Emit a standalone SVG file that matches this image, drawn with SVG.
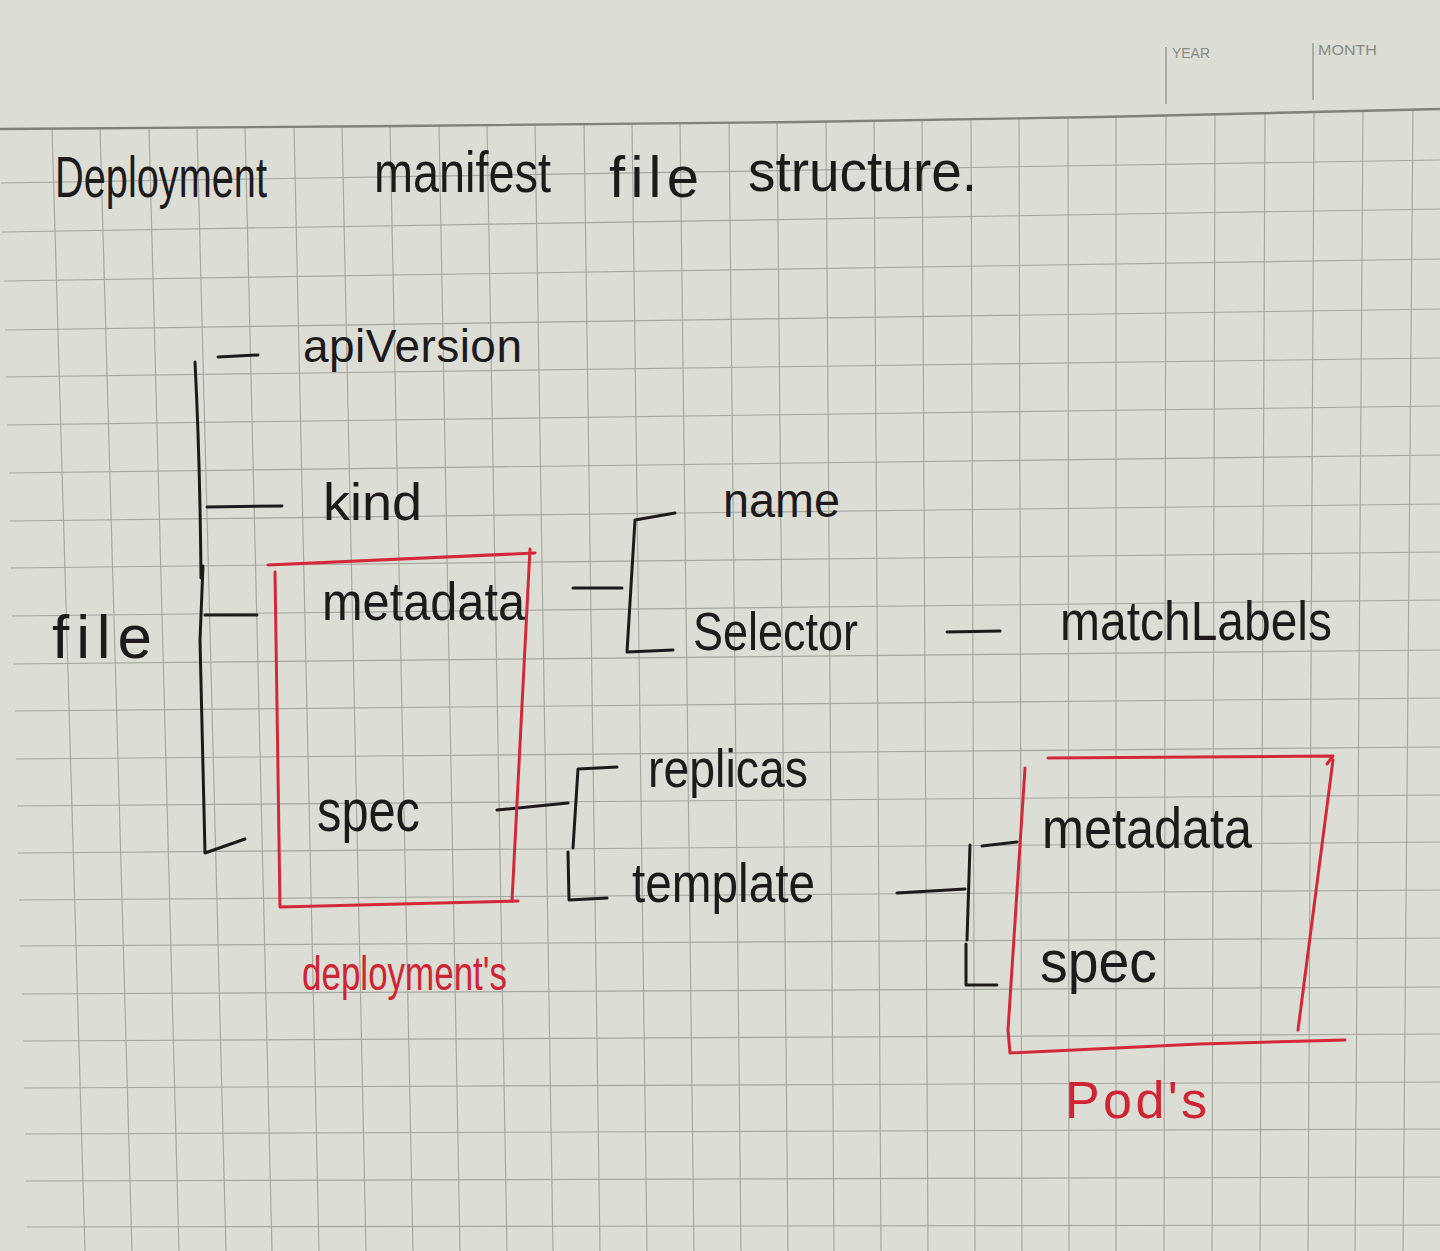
<svg xmlns="http://www.w3.org/2000/svg" width="1440" height="1251" viewBox="0 0 1440 1251">
<style>
.grid{stroke:#a5a7a0;stroke-width:1.15;fill:none}
.border{stroke:#7f817a;stroke-width:2.4;fill:none}
.hdr{stroke:#8c8e88;stroke-width:1.2;fill:none}
.hdrt{font-family:"Liberation Sans",Arial,sans-serif;fill:#8a8c86;font-size:15px}
.ink{stroke:#1d1a1c;stroke-width:3;fill:none;stroke-linecap:round;stroke-linejoin:round}
.red{stroke:#d3283a;stroke-width:3;fill:none;stroke-linecap:round;stroke-linejoin:round}
.t{font-family:"Liberation Sans",Arial,sans-serif;fill:#1d1a1c}
.rt{font-family:"Liberation Sans",Arial,sans-serif;fill:#cf2433}
</style>
<rect x="0" y="0" width="1440" height="1251" fill="#dcddd4"/>
<g id="paper-grid">
<g class="grid">
<path d="M1,183 L1440,160"/>
<path d="M2,232 L1440,209"/>
<path d="M4,281 L1440,259"/>
<path d="M5,330 L1440,309"/>
<path d="M6,377 L1440,358"/>
<path d="M7,425 L1440,406"/>
<path d="M9,473 L1440,455"/>
<path d="M10,521 L1440,504"/>
<path d="M11,568 L1440,552"/>
<path d="M12,616 L1440,600"/>
<path d="M13,664 L1440,650"/>
<path d="M15,711 L1440,698"/>
<path d="M16,759 L1440,747"/>
<path d="M17,806 L1440,795"/>
<path d="M18,853 L1440,842"/>
<path d="M19,900 L1440,890"/>
<path d="M20,946 L1440,938"/>
<path d="M22,994 L1440,987"/>
<path d="M23,1041 L1440,1034"/>
<path d="M24,1088 L1440,1082"/>
<path d="M25,1134 L1440,1129"/>
<path d="M26,1181 L1440,1177"/>
<path d="M27,1227 L1440,1225"/>
<path d="M52,129 L85,1251"/>
<path d="M100,128 L132,1251"/>
<path d="M149,128 L179,1251"/>
<path d="M197,128 L226,1251"/>
<path d="M245,127 L272,1251"/>
<path d="M294,127 L319,1251"/>
<path d="M342,126 L366,1251"/>
<path d="M390,126 L413,1251"/>
<path d="M439,125 L460,1251"/>
<path d="M487,125 L507,1251"/>
<path d="M535,124 L553,1251"/>
<path d="M584,124 L600,1251"/>
<path d="M632,124 L647,1251"/>
<path d="M680,123 L694,1251"/>
<path d="M729,123 L741,1251"/>
<path d="M777,122 L788,1251"/>
<path d="M826,122 L834,1251"/>
<path d="M874,121 L881,1251"/>
<path d="M922,120 L928,1251"/>
<path d="M971,119 L975,1251"/>
<path d="M1019,118 L1022,1251"/>
<path d="M1068,118 L1069,1251"/>
<path d="M1116,117 L1116,1251"/>
<path d="M1166,116 L1164,1251"/>
<path d="M1215,114 L1212,1251"/>
<path d="M1265,113 L1260,1251"/>
<path d="M1314,112 L1308,1251"/>
<path d="M1363,111 L1355,1251"/>
<path d="M1413,110 L1403,1251"/>
</g>
<path class="border" d="M0,129 L400,126 L800,122 L1100,117 L1440,109"/>
<path class="hdr" d="M1166,47 L1166,104 M1313,43 L1313,100"/>
<text class="hdrt" x="1172" y="58" textLength="38" lengthAdjust="spacingAndGlyphs">YEAR</text>
<text class="hdrt" x="1318" y="55" textLength="59" lengthAdjust="spacingAndGlyphs">MONTH</text>
</g>
<g id="title">
<text class="t" x="55" y="197" font-size="58" textLength="212" lengthAdjust="spacingAndGlyphs">Deployment</text>
<text class="t" x="374" y="192" font-size="58" textLength="177" lengthAdjust="spacingAndGlyphs">manifest</text>
<text class="t" x="609" y="197" font-size="58" textLength="90" lengthAdjust="spacing">file</text>
<text class="t" x="748" y="191" font-size="58" textLength="229" lengthAdjust="spacingAndGlyphs">structure.</text>
</g>
<g id="connectors">
<path class="ink" d="M195,362 Q200,460 201,578"/>
<path class="ink" d="M203,566 L200,640 L205,853 L245,839"/>
<path class="ink" d="M218,357 L258,355"/>
<path class="ink" d="M207,507 L282,506"/>
<path class="ink" d="M205,615 L257,615"/>
<path class="ink" d="M573,588 L622,588"/>
<path class="ink" d="M675,513 L635,520 L627,652 L673,650"/>
<path class="ink" d="M947,632 L1000,631"/>
<path class="ink" d="M497,810 L568,803"/>
<path class="ink" d="M617,767 L578,769 L573,848"/>
<path class="ink" d="M568,852 L569,900 L607,898"/>
<path class="ink" d="M897,893 L965,889"/>
<path class="ink" d="M982,846 L1017,842"/>
<path class="ink" d="M970,845 L967,940"/>
<path class="ink" d="M966,944 L966,985 L997,985"/>
</g>
<g id="node-file"><text class="t" x="52" y="658" font-size="62" textLength="100" lengthAdjust="spacing">file</text></g>
<g id="node-apiVersion"><text class="t" x="303" y="362" font-size="46" textLength="219" lengthAdjust="spacing">apiVersion</text></g>
<g id="node-kind"><text class="t" x="323" y="520" font-size="52" textLength="99" lengthAdjust="spacingAndGlyphs">kind</text></g>
<g id="group-deployment">
<path class="red" d="M268,565 L535,553"/>
<path class="red" d="M275,572 L280,907 L518,901"/>
<path class="red" d="M530,549 L512,901"/>
<text class="rt" x="302" y="990" font-size="48" textLength="205" lengthAdjust="spacingAndGlyphs">deployment's</text>
</g>
<g id="node-metadata"><text class="t" x="322" y="620" font-size="54" textLength="203" lengthAdjust="spacingAndGlyphs">metadata</text></g>
<g id="node-spec"><text class="t" x="317" y="831" font-size="60" textLength="103" lengthAdjust="spacingAndGlyphs">spec</text></g>
<g id="node-name"><text class="t" x="723" y="517" font-size="48" textLength="117" lengthAdjust="spacingAndGlyphs">name</text></g>
<g id="node-selector"><text class="t" x="693" y="650" font-size="54" textLength="165" lengthAdjust="spacingAndGlyphs">Selector</text></g>
<g id="node-matchLabels"><text class="t" x="1060" y="640" font-size="56" textLength="272" lengthAdjust="spacingAndGlyphs">matchLabels</text></g>
<g id="node-replicas"><text class="t" x="648" y="787" font-size="54" textLength="160" lengthAdjust="spacingAndGlyphs">replicas</text></g>
<g id="node-template"><text class="t" x="632" y="902" font-size="56" textLength="183" lengthAdjust="spacingAndGlyphs">template</text></g>
<g id="group-pod">
<path class="red" d="M1048,758 L1333,756 L1327,764"/>
<path class="red" d="M1333,760 L1298,1030"/>
<path class="red" d="M1025,768 L1008,1030 L1010,1053 L1200,1044 L1345,1040"/>
<text class="rt" x="1065" y="1118" font-size="52" textLength="142" lengthAdjust="spacing">Pod's</text>
</g>
<g id="node-pod-metadata"><text class="t" x="1042" y="848" font-size="58" textLength="210" lengthAdjust="spacingAndGlyphs">metadata</text></g>
<g id="node-pod-spec"><text class="t" x="1040" y="982" font-size="60" textLength="117" lengthAdjust="spacingAndGlyphs">spec</text></g>
</svg>
